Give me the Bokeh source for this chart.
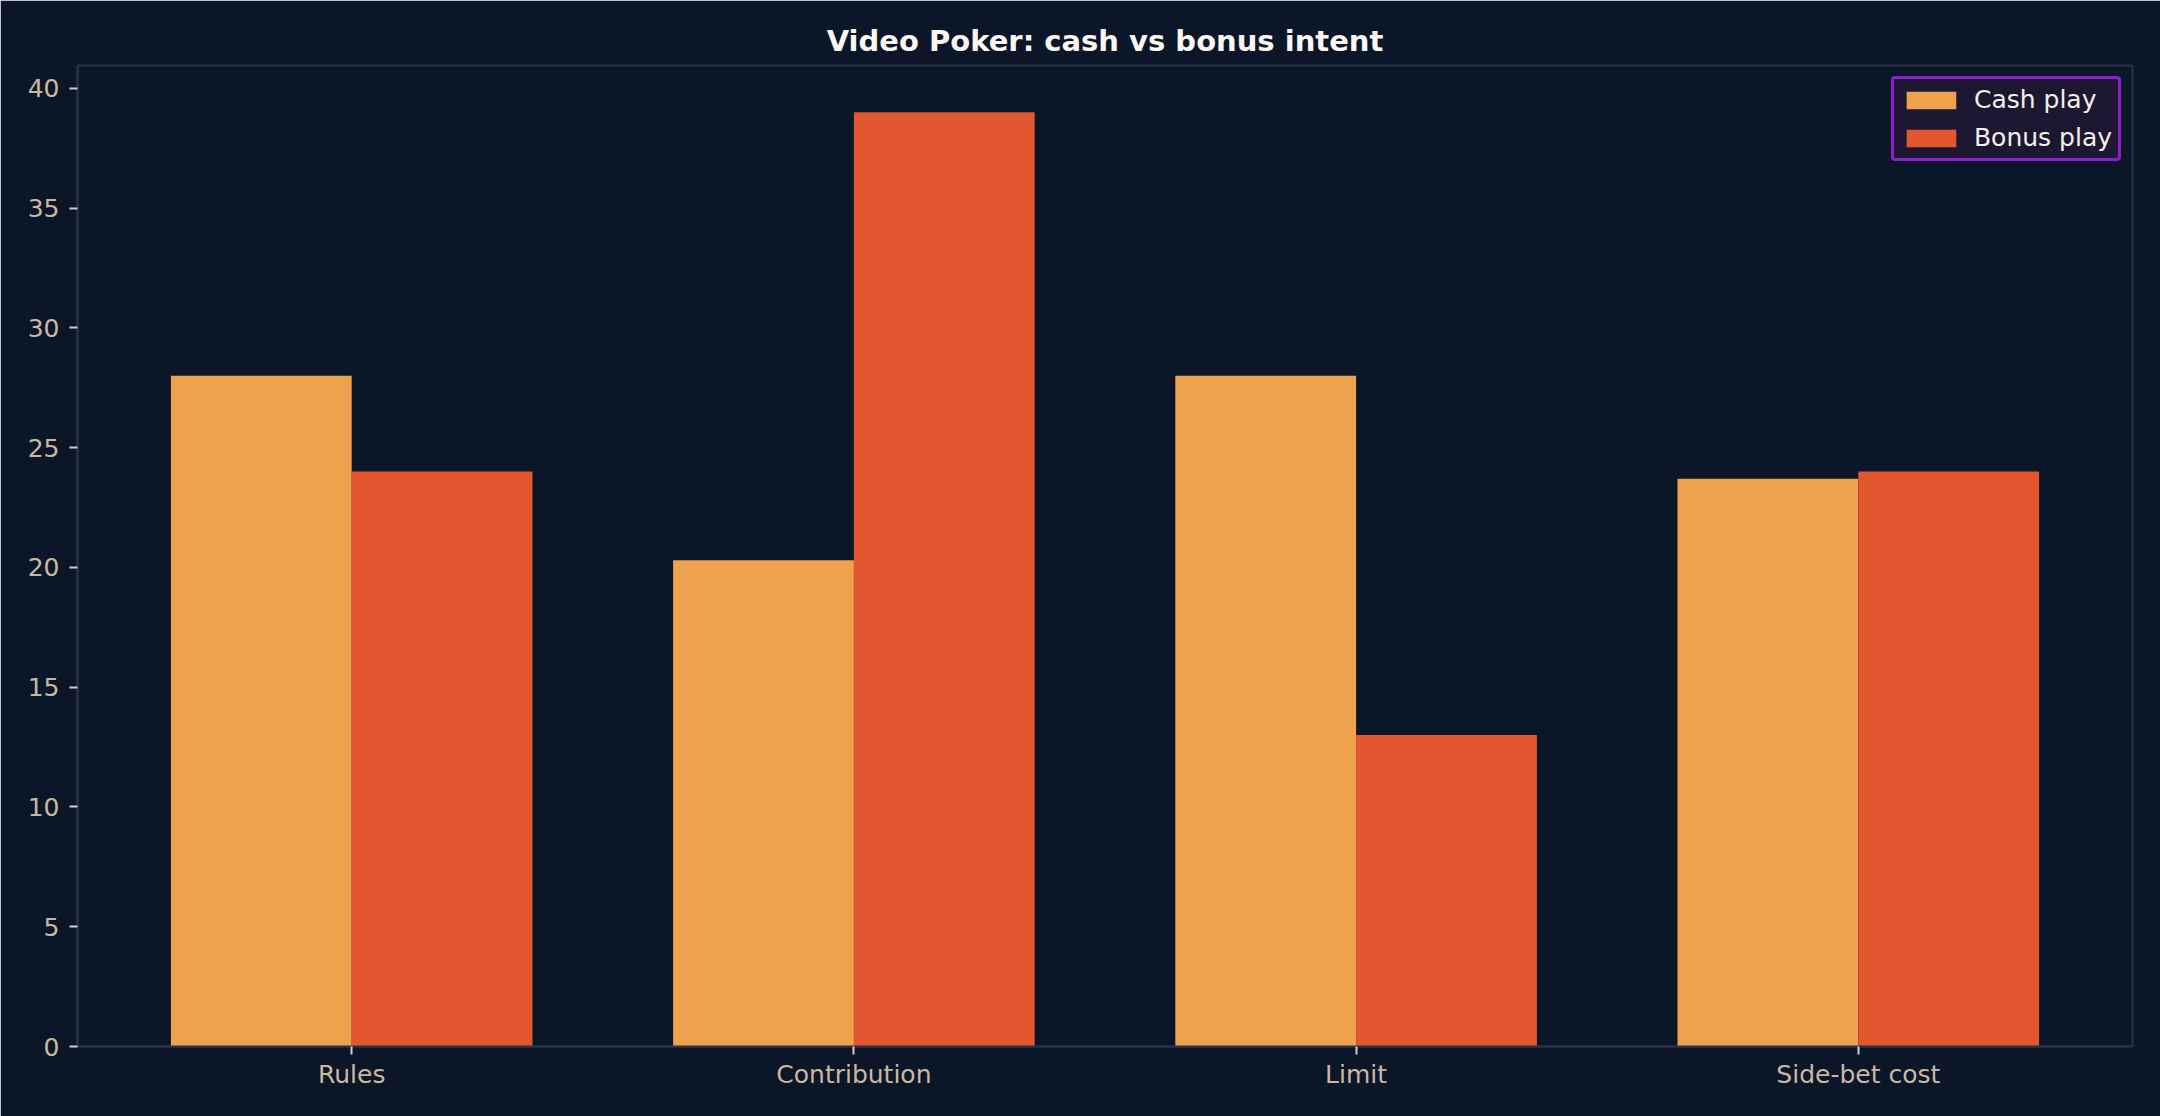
from bokeh.plotting import figure
from bokeh.models import ColumnDataSource, Range1d, FixedTicker, Legend, LegendItem
from bokeh.transform import dodge
from bokeh.embed import file_html
from bokeh.resources import INLINE

categories = ["Rules", "Contribution", "Limit", "Side-bet cost"]
cash_play = [28.0, 20.3, 28.0, 23.7]
bonus_play = [24.0, 39.0, 13.0, 24.0]
y_ticks = [0, 5, 10, 15, 20, 25, 30, 35, 40]

BG = "#0b1628"
SPINE = "#2b3049"
TICK_TXT = "#c9b9a1"
CASH = "#efa24d"
BONUS = "#e2572f"

src = ColumnDataSource(dict(x=list(range(len(categories))), cash=cash_play, bonus=bonus_play))

p = figure(width=2160, height=1116, output_backend="svg", toolbar_location=None,
           x_range=Range1d(-0.546, len(categories) - 1 + 0.546),
           y_range=Range1d(0, max(bonus_play + cash_play) * 1.05),
           min_border_left=77, min_border_right=28, min_border_top=65, min_border_bottom=70)

p.background_fill_color = BG
p.border_fill_color = BG
p.outline_line_color = SPINE
p.outline_line_width = 2
p.xgrid.visible = False
p.ygrid.visible = False

w = 0.36
r1 = p.vbar(x=dodge("x", -w / 2, range=p.x_range), top="cash", width=w, source=src,
            fill_color=CASH, line_color=None)
r2 = p.vbar(x=dodge("x", w / 2, range=p.x_range), top="bonus", width=w, source=src,
            fill_color=BONUS, line_color=None)

p.title.text = "Video Poker: cash vs bonus intent"
p.title.align = "center"
p.title.text_color = "#fbf7f0"
p.title.text_font = "DejaVu Sans"
p.title.text_font_style = "bold"
p.title.text_font_size = "29px"
p.title.offset = 0
p.title.standoff = 16

for ax in (p.xaxis[0], p.yaxis[0]):
    ax.axis_line_color = SPINE
    ax.axis_line_width = 2
    ax.major_tick_line_color = "#cfcfcf"
    ax.major_tick_line_width = 2
    ax.major_tick_out = 8
    ax.major_tick_in = 0
    ax.minor_tick_line_color = None
    ax.major_label_text_color = TICK_TXT
    ax.major_label_text_font = "DejaVu Sans"
    ax.major_label_text_font_size = "25px"
    ax.major_label_standoff = 10

p.xaxis[0].major_label_standoff = 5
p.xaxis[0].ticker = FixedTicker(ticks=list(range(len(categories))))
p.xaxis[0].major_label_overrides = {i: c for i, c in enumerate(categories)}
p.yaxis[0].ticker = FixedTicker(ticks=y_ticks)

legend = Legend(items=[LegendItem(label="Cash play", renderers=[r1]),
                       LegendItem(label="Bonus play", renderers=[r2])],
                location="top_right")
legend.background_fill_color = "#1e1732"
legend.background_fill_alpha = 1.0
legend.border_line_color = "#8e1fcc"
legend.border_line_alpha = 1.0
legend.border_line_width = 3
legend.border_radius = 4
legend.label_text_color = "#f4f0ea"
legend.label_text_font = "DejaVu Sans"
legend.label_text_font_size = "25px"
legend.glyph_width = 62
legend.glyph_height = 22
legend.label_standoff = 12
legend.spacing = 9
legend.padding = 6
legend.margin = 11
p.add_layout(legend)

open("out.html", "w").write(file_html(p, INLINE))
